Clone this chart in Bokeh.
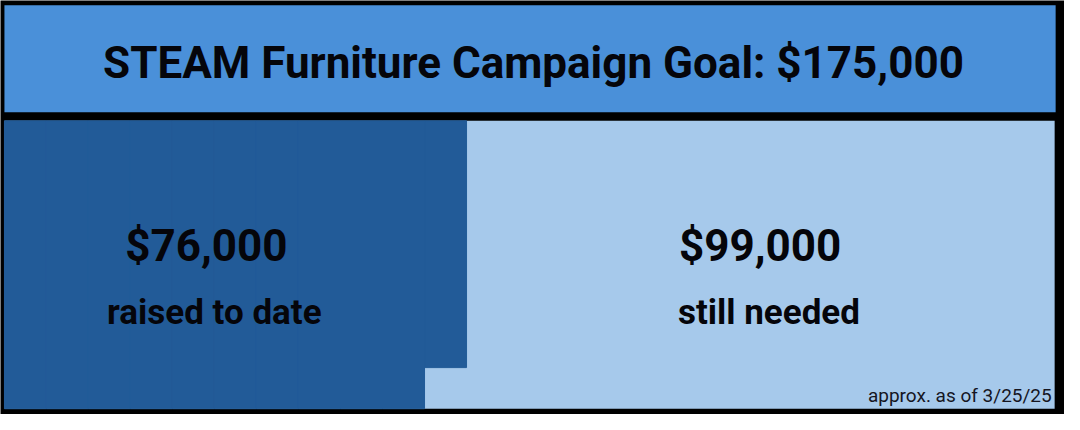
from bokeh.plotting import figure
from bokeh.models import Range1d
from bokeh.core.properties import value
from bokeh.embed import file_html
from bokeh.resources import INLINE

# ---- data (thousands of dollars) ----
goal = 175
raised = 76
labels = ["raised to date", "still needed"]
as_of = "approx. as of 3/25/25"
title = "STEAM Furniture Campaign Goal: ${:,}".format(goal * 1000)

# waffle grid: each cell = $1,000, filled top-to-bottom, column by column
n_rows = 7
n_cols = goal // n_rows

DARK = "#225b98"
LIGHT = "#a6c9eb"
TITLE_BG = "#4a90d9"
FONT = "Roboto"
INK = "#05050a"

W, H = 1080, 430
p = figure(width=1064, height=414, x_range=Range1d(0, W), y_range=Range1d(H, 0),
           output_backend="svg", toolbar_location=None, min_border=0)
p.axis.visible = False
p.grid.visible = False
p.outline_line_color = None
p.background_fill_color = "black"
p.border_fill_color = "black"

# title bar
p.quad(left=[4], right=[1071], top=[5], bottom=[116], fill_color=TITLE_BG, line_color=None)

# waffle panel
x0, x1, y0, y1 = 4, 1070, 125, 424
cw = (x1 - x0) / n_cols
ch = (y1 - y0) / n_rows
p.quad(left=[x0], right=[x1], top=[y0], bottom=[y1], fill_color=LIGHT, line_color=None)

lefts, rights, tops, bottoms = [], [], [], []
for c in range(n_cols):
    filled = max(0, min(n_rows, raised - c * n_rows))
    if filled == 0:
        continue
    lefts.append(x0 + c * cw)
    rights.append(x0 + (c + 1) * cw)
    tops.append(y0)
    bottoms.append(y0 + filled * ch)
p.quad(left=lefts, right=rights, top=tops, bottom=bottoms,
       fill_color=DARK, line_color=DARK, line_width=1)

# texts
p.text(x=[541], y=[65], text=[title], text_font=value(FONT), text_font_style="bold",
       text_font_size="44px", text_align="center", text_baseline="middle", text_color=INK)

amounts = ["${:,}".format(raised * 1000), "${:,}".format((goal - raised) * 1000)]
p.text(x=[209, 771], y=[255, 255], text=amounts, text_font=value(FONT), text_font_style="bold",
       text_font_size="44px", text_align="center", text_baseline="middle", text_color=INK)
p.text(x=[217, 780], y=[324, 324], text=labels, text_font=value(FONT), text_font_style="bold",
       text_font_size="35px", text_align="center", text_baseline="middle", text_color=INK)
p.text(x=[1067], y=[410], text=[as_of], text_font=value(FONT),
       text_font_size="19px", text_align="right", text_baseline="middle", text_color="#15151f")

open("out.html", "w").write(file_html(p, INLINE))
